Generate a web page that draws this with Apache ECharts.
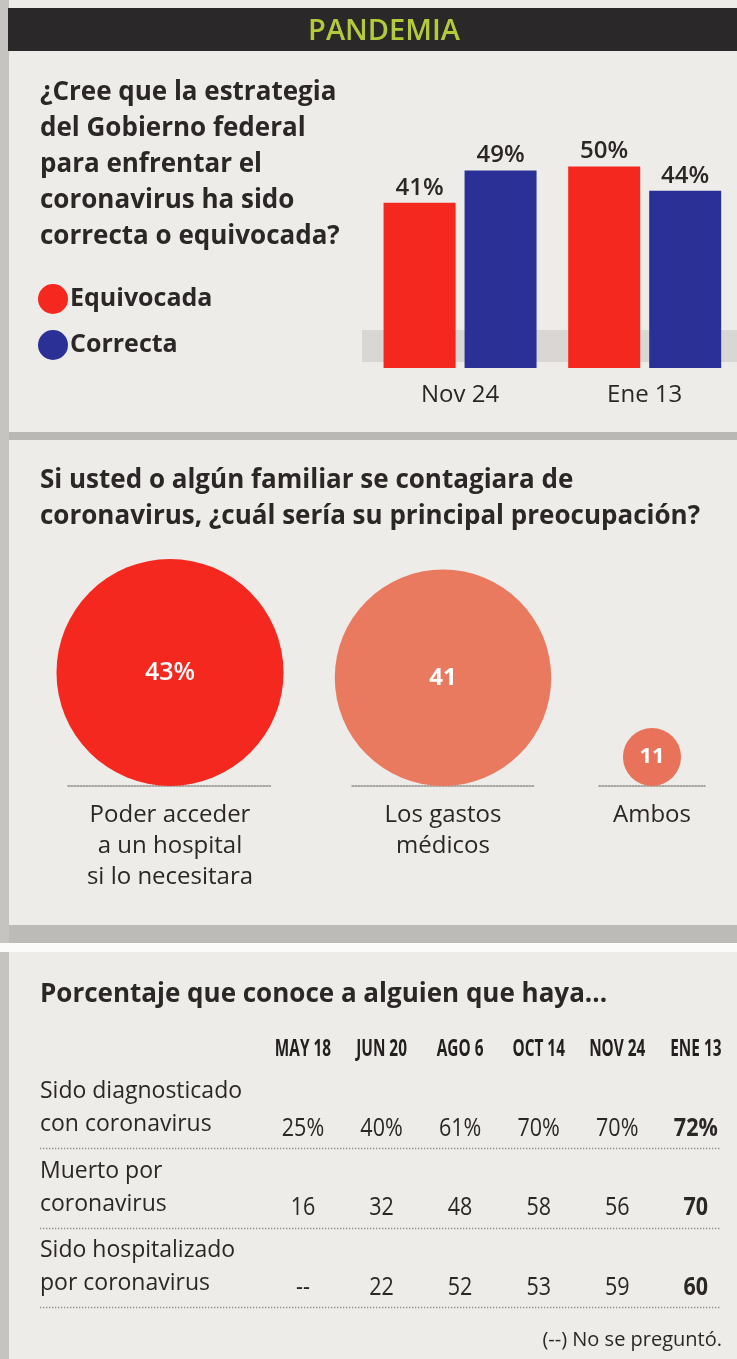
<!DOCTYPE html>
<html><head><meta charset="utf-8">
<script src="https://cdn.jsdelivr.net/npm/echarts@6/dist/echarts.min.js"></script>
<style>html,body{margin:0;padding:0;background:#eeece9;}#c{width:737px;height:1359px;}</style>
</head><body><div id="c"></div>
<script>
// ---------------- data ----------------
const headerText = 'PANDEMIA';

const q1Title = '¿Cree que la estrategia\ndel Gobierno federal\npara enfrentar el\ncoronavirus ha sido\ncorrecta o equivocada?';
const q1Categories = ['Nov 24', 'Ene 13'];
const q1SeriesNames = ['Equivocada', 'Correcta'];
const q1Equivocada = [41, 50];
const q1Correcta = [49, 44];

const q2Title = 'Si usted o algún familiar se contagiara de\ncoronavirus, ¿cuál sería su principal preocupación?';
const q2Categories = ['Poder acceder\na un hospital\nsi lo necesitara', 'Los gastos\nmédicos', 'Ambos'];
const q2Values = [43, 41, 11];

const q3Title = 'Porcentaje que conoce a alguien que haya...';
const q3Columns = ['MAY 18', 'JUN 20', 'AGO 6', 'OCT 14', 'NOV 24', 'ENE 13'];
const q3Rows = ['Sido diagnosticado\ncon coronavirus', 'Muerto por\ncoronavirus', 'Sido hospitalizado\npor coronavirus'];
const q3Diagnosticado = [25, 40, 61, 70, 70, 72];
const q3Muerto = [16, 32, 48, 58, 56, 70];
const q3Hospitalizado = [null, 22, 52, 53, 59, 60];
const q3Note = '(--) No se preguntó.';

// ---------------- styles ----------------
const FONT = '"Open Sans", "Noto Sans", sans-serif';
const INK = '#2b2727';
const RED = '#f4281f';
const BLUE = '#2a3096';
const SALMON = '#ea7a5f';
const bubbleColors = [RED, SALMON, '#e9725a'];
const bubbleFont = ['600 25px ' + FONT, '700 24px ' + FONT, '700 22px ' + FONT];
const bubbleGrids = [{left: 68, width: 204}, {left: 352, width: 182}, {left: 599, width: 106}];

const q3Values = [q3Diagnosticado, q3Muerto, q3Hospitalizado];

const chart = echarts.init(document.getElementById('c'), null, {renderer: 'canvas', width: 737, height: 1359});

const grids = [
  {left: 367.75, width: 373, top: 166.5, height: 201.5},
];
bubbleGrids.forEach(g => grids.push({left: g.left, width: g.width, top: 522, height: 264}));
grids.push({left: 263.7, width: 471.4, top: 1068.5, height: 238.5});

const xAxes = [{
  type: 'category', gridIndex: 0, data: q1Categories,
  axisLine: {show: false}, axisTick: {show: false},
  axisLabel: {margin: 15, fontFamily: FONT, fontSize: 24, color: INK, interval: 0}
}];
const yAxes = [{type: 'value', gridIndex: 0, min: 0, max: 50, show: false}];
q2Categories.forEach((c, i) => {
  xAxes.push({
    type: 'category', gridIndex: i + 1, data: [c],
    axisLine: {show: true, lineStyle: {color: '#8e8b88', width: 1.5, type: 'dotted'}},
    axisTick: {show: false},
    axisLabel: {margin: 14, fontFamily: FONT, fontSize: 24, lineHeight: 31, color: INK, interval: 0}
  });
  yAxes.push({type: 'value', gridIndex: i + 1, min: 0, max: 50, show: false});
});
xAxes.push({
  type: 'category', gridIndex: 4, data: q3Columns, position: 'top',
  axisLine: {show: false}, axisTick: {show: false}, axisLabel: {show: false}
});
yAxes.push({
  type: 'category', gridIndex: 4, data: q3Rows, inverse: true,
  axisLine: {show: false}, axisTick: {show: false}, splitLine: {show: false},
  axisLabel: {align: 'left', margin: 223.7, fontFamily: FONT, fontSize: 23, lineHeight: 33,
    color: INK, interval: 0, padding: [9, 0, 0, 0]}
});

const series = [
  {
    name: q1SeriesNames[0], type: 'bar', xAxisIndex: 0, yAxisIndex: 0, data: q1Equivocada,
    barWidth: 72, barGap: '12.5%', itemStyle: {color: RED},
    label: {show: true, position: 'top', distance: 3, formatter: '{c}%', fontFamily: FONT,
      fontWeight: 600, fontSize: 24, color: INK}
  },
  {
    name: q1SeriesNames[1], type: 'bar', xAxisIndex: 0, yAxisIndex: 0, data: q1Correcta,
    barWidth: 72, barGap: '12.5%', itemStyle: {color: BLUE},
    label: {show: true, position: 'top', distance: 3, formatter: '{c}%', fontFamily: FONT,
      fontWeight: 600, fontSize: 24, color: INK}
  }
];

q2Values.forEach((v, i) => {
  series.push({
    type: 'custom', xAxisIndex: i + 1, yAxisIndex: i + 1, coordinateSystem: 'cartesian2d',
    data: [[0, v]], encode: {x: 0, y: 1},
    renderItem: function (params, api) {
      const base = api.coord([api.value(0), 0]);
      const d = api.size([0, api.value(1)])[1];
      const r = d / 2;
      const txt = i === 0 ? api.value(1) + '%' : String(api.value(1));
      return {
        type: 'circle', shape: {cx: base[0], cy: base[1] - r, r: r},
        style: {fill: bubbleColors[i]},
        textContent: {style: {text: txt, fill: '#ffffff', font: bubbleFont[i]}},
        textConfig: {position: 'inside'}
      };
    }
  });
});

// column headers (condensed bold, placed through the table's category axis)
series.push({
  type: 'custom', xAxisIndex: 4, yAxisIndex: 4, coordinateSystem: 'cartesian2d', clip: false,
  data: q3Columns.map((c, i) => [i, 0]), encode: {x: 0, y: 1}, silent: true,
  renderItem: function (params, api) {
    const ci = api.value(0);
    const c = api.coord([ci, 0]);
    const h = api.size([0, 0])[1];
    return {type: 'text', x: c[0], y: c[1] - h / 2 - 19.5, scaleX: 0.64,
      style: {text: q3Columns[ci], fill: '#231f1f', align: 'center', verticalAlign: 'middle',
        font: '700 24px ' + FONT}};
  }
});

// row separators (dotted lines at the bottom of each table row)
series.push({
  type: 'custom', xAxisIndex: 4, yAxisIndex: 4, coordinateSystem: 'cartesian2d', clip: false,
  data: q3Rows.map((r, i) => [0, i]), encode: {x: 0, y: 1}, silent: true,
  renderItem: function (params, api) {
    const c = api.coord([api.value(0), api.value(1)]);
    const h = api.size([0, api.value(1)])[1];
    const y = Math.round(c[1] + h / 2) + 0.5;
    return {type: 'line', shape: {x1: 40, y1: y, x2: 721, y2: y},
      style: {stroke: '#8f8c89', lineWidth: 1.3, lineDash: [1.3, 1.7]}};
  }
});

// table cells
const cells = [];
q3Rows.forEach((r, ri) => q3Columns.forEach((c, ci) => cells.push([ci, ri])));
series.push({
  type: 'custom', xAxisIndex: 4, yAxisIndex: 4, coordinateSystem: 'cartesian2d', clip: false,
  data: cells, encode: {x: 0, y: 1}, silent: true,
  renderItem: function (params, api) {
    const ci = api.value(0), ri = api.value(1);
    const p = api.coord([ci, ri]);
    const v = q3Values[ri][ci];
    const txt = v === null ? '--' : (ri === 0 ? v + '%' : String(v));
    const bold = ci === q3Columns.length - 1;
    return {type: 'text', x: p[0], y: p[1] + 20.5, scaleX: 0.86,
      style: {text: txt, fill: INK, align: 'center', verticalAlign: 'middle',
        font: (bold ? '700 ' : '400 ') + '25px ' + FONT}};
  }
});

const titleStyle = {fontFamily: FONT, fontWeight: 700, fontSize: 26, lineHeight: 36, color: INK};
const option = {
  backgroundColor: '#eeece9',
  animation: false,
  title: [
    {text: q1Title, left: 40, top: 75, padding: 0, textStyle: titleStyle},
    {text: q2Title, left: 40, top: 463, padding: 0, textStyle: titleStyle},
    {text: q3Title, left: 40, top: 977, padding: 0, textStyle: titleStyle},
    {text: q3Note, right: 15, top: 1328, padding: 0, textStyle: {fontFamily: FONT, fontWeight: 400, fontSize: 20, lineHeight: 24, color: INK}}
  ],
  legend: {
    data: q1SeriesNames, orient: 'vertical', left: 38, top: 284, itemWidth: 30, itemHeight: 30,
    itemGap: 16, icon: 'circle', selectedMode: false, padding: 0,
    textStyle: {fontFamily: FONT, fontWeight: 700, fontSize: 25, color: INK, padding: [0, 0, 0, -3]}
  },
  graphic: {elements: [
    {type: 'rect', z: 0, shape: {x: 0, y: 0, width: 9, height: 1359}, style: {fill: '#c6c4c0'}},
    {type: 'rect', z: 0, shape: {x: 8, y: 8, width: 729, height: 43}, style: {fill: '#2a2828'}},
    {type: 'text', z: 1, x: 384, y: 32, style: {text: headerText, fill: '#b3cb3b', align: 'center', verticalAlign: 'middle', font: '600 29px ' + FONT}},
    {type: 'rect', z: 0, shape: {x: 362, y: 330, width: 375, height: 32}, style: {fill: '#d9d7d3'}},
    {type: 'rect', z: 0, shape: {x: 9, y: 432, width: 728, height: 8}, style: {fill: '#bab8b4'}},
    {type: 'rect', z: 0, shape: {x: 9, y: 925, width: 728, height: 18}, style: {fill: '#bdbbb7'}},
    {type: 'rect', z: 0, shape: {x: 0, y: 943, width: 737, height: 9}, style: {fill: '#fbfbfa'}}
  ]},
  grid: grids,
  xAxis: xAxes,
  yAxis: yAxes,
  series: series
};
chart.setOption(option);
</script>
</body></html>
